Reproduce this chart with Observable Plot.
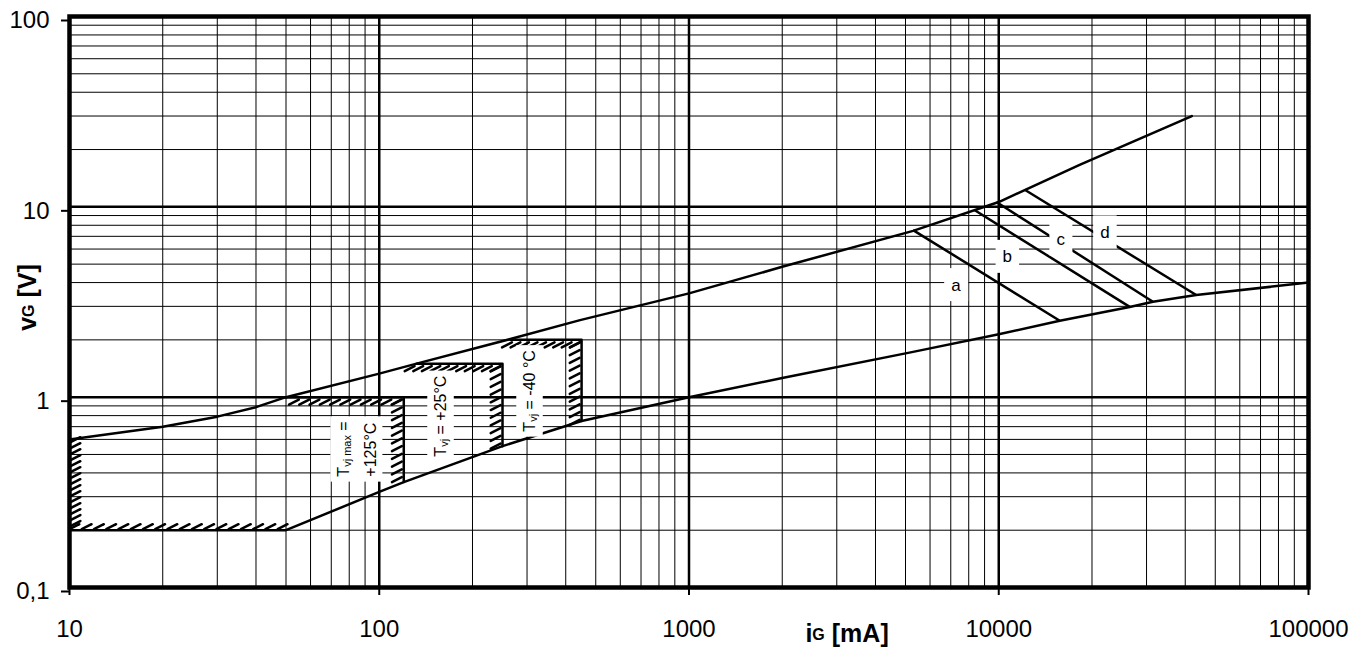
<!DOCTYPE html>
<html><head><meta charset="utf-8">
<script src="https://cdn.jsdelivr.net/npm/d3@7"></script>
<script src="https://cdn.jsdelivr.net/npm/@observablehq/plot@0.6"></script>
<style>body{margin:0;background:#fff}</style>
</head><body><div id="chart"></div>
<script>
// ---- axis ticks ----
const xTicks = [10, 100, 1000, 10000, 100000];
const xTickLabels = ["10", "100", "1000", "10000", "100000"];
const yTicks = [0.1, 1, 10, 100];
const yTickLabels = ["0,1", "1", "10", "100"];
const gridMult = [2, 3, 4, 5, 6, 7, 8, 9];

// ---- boundary curves (i_G in mA, v_G in V) ----
const upperI = [10, 20, 30, 40, 50, 100, 132, 265, 445, 1000, 2000, 5290, 10000, 18240, 42000];
const upperV = [0.6, 0.70, 0.79, 0.886, 1.0, 1.33, 1.5, 2.02, 2.54, 3.51, 4.84, 7.48, 10.6, 16.6, 30];
const lowerI = [10, 50, 100, 120, 250, 450, 1000, 2000, 5290, 10000, 15740, 26470, 31460, 43400, 100000];
const lowerV = [0.2, 0.2, 0.318, 0.358, 0.553, 0.75, 1.0, 1.26, 1.73, 2.14, 2.52, 2.98, 3.17, 3.44, 4.0];

// ---- temperature boxes ----
const boxLeftI = [50, 132, 265];
const boxRightI = [120, 250, 450];
const boxTopV = [1.0, 1.5, 2.0];
const boxBottomV = [0.358, 0.553, 0.75];

// ---- pulse lines a..d ----
const bandLabels = ["a", "b", "c", "d"];
const bandI1 = [5290, 8370, 9830, 12130];
const bandV1 = [7.55, 9.6, 10.6, 12.3];
const bandI2 = [15740, 26470, 31460, 43400];
const bandV2 = [2.52, 2.98, 3.17, 3.44];
const bandLabelI = [7300, 10700, 15900, 22100];
const bandLabelV = [3.88, 5.46, 6.74, 7.34];

// ---- hatched edges ----
const hatchFromI = [10, 10, 55, 120, 130, 250, 268, 450];
const hatchToI   = [10, 47, 118, 120, 246, 250, 445, 450];
const hatchFromV = [0.21, 0.2, 1.0, 0.97, 1.5, 1.45, 2.0, 1.94];
const hatchToV   = [0.58, 0.2, 1.0, 0.38, 1.5, 0.57, 2.0, 0.76];
const hatchCount = [15, 18, 11, 11, 11, 11, 9, 11];
const hatchSide  = ["up", "up", "down", "down", "down", "down", "down", "down"];
const hatchEdge  = ["v", "h", "h", "v", "h", "v", "h", "v"];

// ---- temperature labels ----
const tempLabelLines = [
  [[["T", 0], ["vj max", 1], [" =", 0]], [["+125°C", 0]]],
  [[["T", 0], ["vj", 1], [" = +25°C", 0]]],
  [[["T", 0], ["vj", 1], [" = -40 °C", 0]]]
];
const tempLabelI = [76.6, 157.4, 305];
const tempLabelV = [0.38, 0.484, 0.655];

// ---- build tables ----
const upper = upperI.map((i, k) => ({i, v: upperV[k]}));
const lower = lowerI.map((i, k) => ({i, v: lowerV[k]}));
const boxes = boxLeftI.flatMap((l, k) => [
  {box: k, i: l, v: boxTopV[k]},
  {box: k, i: boxRightI[k], v: boxTopV[k]},
  {box: k, i: boxRightI[k], v: boxBottomV[k]}
]);
const bands = bandLabels.map((b, k) => ({b, i1: bandI1[k], v1: bandV1[k], i2: bandI2[k], v2: bandV2[k]}));
const hatch = hatchFromI.flatMap((i1, s) => {
  const n = hatchCount[s], out = [];
  for (let k = 0; k < n; k++) {
    const t = k / (n - 1);
    out.push({
      i: i1 * Math.pow(hatchToI[s] / i1, t),
      v: hatchFromV[s] * Math.pow(hatchToV[s] / hatchFromV[s], t),
      rot: hatchSide[s] === "up" ? 63 : 243,
      kind: hatchSide[s] + hatchEdge[s]
    });
  }
  return out;
});
const minorX = xTicks.slice(0, -1).flatMap(d => gridMult.map(m => d * m));
const minorY = yTicks.slice(0, -1).flatMap(d => gridMult.map(m => d * m));
const xLab = new Map(xTicks.map((d, k) => [d, xTickLabels[k]]));
const yLab = new Map(yTicks.map((d, k) => [d, yTickLabels[k]]));

const lineShape = {draw(context, l) { context.moveTo(0, 0); context.lineTo(0, -l); }};
const FONT = "'Liberation Sans', Arial, Helvetica, sans-serif";
const hatchOpts = {x: "i", y: "v", rotate: "rot", length: 11, anchor: "start", shape: lineShape, stroke: "black", strokeWidth: 2.5};

const plot = Plot.plot({
  width: 1369, height: 648,
  marginLeft: 69, marginRight: 61, marginTop: 16, marginBottom: 61,
  style: {fontFamily: FONT, background: "white", color: "black", overflow: "visible"},
  x: {type: "log", domain: [10, 100000]},
  y: {type: "log", domain: [0.1, 100]},
  marks: [
    Plot.ruleX(minorX, {stroke: "black", strokeWidth: 1}),
    Plot.ruleY(minorY, {stroke: "black", strokeWidth: 1}),
    Plot.ruleX(xTicks, {stroke: "black", strokeWidth: 2.5}),
    Plot.ruleY(yTicks, {stroke: "black", strokeWidth: 2.5}),
    Plot.line(upper, {x: "i", y: "v", stroke: "black", strokeWidth: 2.5}),
    Plot.line(lower, {x: "i", y: "v", stroke: "black", strokeWidth: 2.5}),
    Plot.line(boxes, {x: "i", y: "v", z: "box", stroke: "black", strokeWidth: 2.5}),
    Plot.link(bands, {x1: "i1", y1: "v1", x2: "i2", y2: "v2", stroke: "black", strokeWidth: 2.5}),
    Plot.vector(hatch.filter(d => d.kind === "upv"), {...hatchOpts, dx: 1}),
    Plot.vector(hatch.filter(d => d.kind === "uph"), {...hatchOpts, dy: -1}),
    Plot.vector(hatch.filter(d => d.kind === "downh"), {...hatchOpts, dy: 2.5}),
    Plot.vector(hatch.filter(d => d.kind === "downv"), {...hatchOpts, dx: -2}),
    Plot.axisX(xTicks, {tickSize: 8, tickPadding: 24, tickFormat: d => xLab.get(d), fontSize: 24, strokeWidth: 2, label: null}),
    Plot.axisY(yTicks, {tickSize: 8, tickPadding: 12, tickFormat: d => yLab.get(d), fontSize: 24, strokeWidth: 2, label: null, dy: 4}),
    Plot.frame({stroke: "black", strokeWidth: 4.5})
  ]
});
document.getElementById("chart").appendChild(plot);

// ---- rich-text labels (subscripts) placed through the plot's scales ----
const sx = plot.scale("x"), sy = plot.scale("y");
const svg = d3.select(plot);
const layer = svg.append("g").attr("font-family", FONT).attr("fill", "black");

function addLabel(px, py, lines, o) {
  const g = layer.append("g").attr("transform", `translate(${px},${py}) rotate(${o.rotate || 0})`);
  const bg = g.append("rect").attr("fill", o.bg ? "white" : "none");
  const texts = lines.map((parts, li) => {
    const t = g.append("text")
      .attr("x", 0).attr("y", li * (o.lineGap || 0))
      .attr("dominant-baseline", o.baseline || "central")
      .attr("text-anchor", o.anchor || "middle")
      .attr("font-size", o.size).attr("font-weight", o.weight || "normal");
    let shifted = false;
    parts.forEach(([s, sub]) => {
      const ts = t.append("tspan").text(s);
      if (sub && !shifted) { ts.attr("font-size", o.subSize).attr("dy", o.subDy); shifted = true; }
      else if (sub) { ts.attr("font-size", o.subSize); }
      else if (!sub && shifted) { ts.attr("dy", -o.subDy); shifted = false; }
    });
    return t;
  });
  if (o.bg) {
    let x0 = Infinity, y0 = Infinity, x1 = -Infinity, y1 = -Infinity;
    texts.forEach(t => { const b = t.node().getBBox(); x0 = Math.min(x0, b.x); y0 = Math.min(y0, b.y); x1 = Math.max(x1, b.x + b.width); y1 = Math.max(y1, b.y + b.height); });
    const p = o.pad || [3, 3];
    bg.attr("x", x0 - p[0]).attr("y", y0 - p[1]).attr("width", x1 - x0 + 2 * p[0]).attr("height", y1 - y0 + 2 * p[1]);
  }
}

tempLabelLines.forEach((lines, k) => {
  addLabel(sx.apply(tempLabelI[k]), sy.apply(tempLabelV[k]), lines,
    {rotate: -90, anchor: "start", size: 16, subSize: 11, subDy: 4, lineGap: 27, bg: true, pad: [5, 4]});
});
bandLabels.forEach((b, k) => {
  addLabel(sx.apply(bandLabelI[k]), sy.apply(bandLabelV[k]), [[[b, 0]]],
    {size: 17, bg: true, pad: [7, 7]});
});
// axis titles
addLabel(27, (sy.apply(0.1) + sy.apply(100)) / 2 - 4, [[["v", 0], ["G", 1], [" [V]", 0]]],
  {rotate: -90, size: 25, subSize: 16, subDy: 1, weight: "bold"});
addLabel(sx.apply(3250), 633, [[["i", 0], ["G", 1], [" [mA]", 0]]],
  {size: 25, subSize: 16, subDy: 1, weight: "bold"});
</script>
</body></html>
